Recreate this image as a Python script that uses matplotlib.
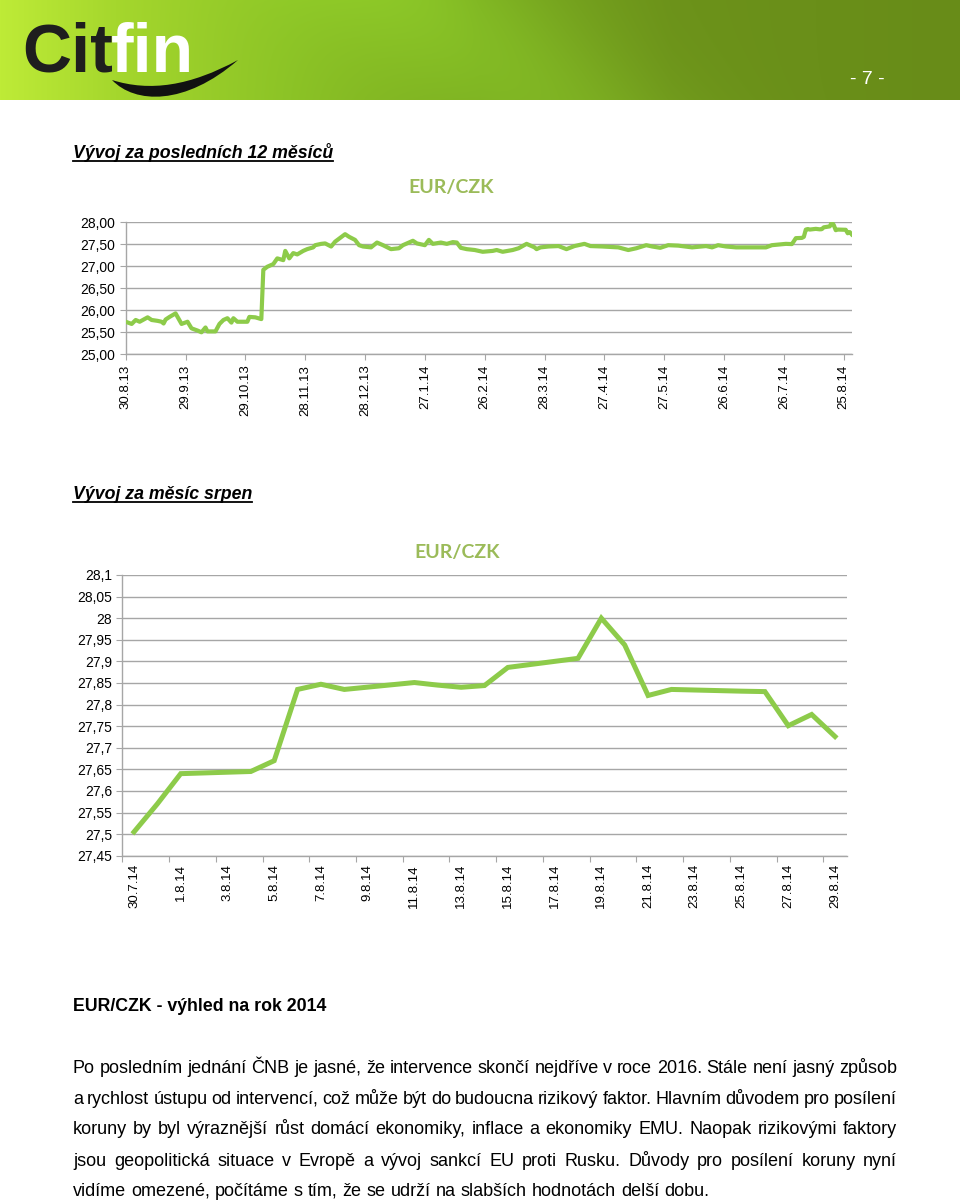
import matplotlib
matplotlib.use("Agg")
import matplotlib.pyplot as plt
from matplotlib.path import Path
from matplotlib.patches import PathPatch
from matplotlib.lines import Line2D
import numpy as np
from datetime import datetime

# ---------------- data ----------------
chart_title = "EUR/CZK"

year_dates = [
    "2013-08-30", "2013-09-02", "2013-09-04", "2013-09-06", "2013-09-10", "2013-09-12",
    "2013-09-15", "2013-09-17", "2013-09-18", "2013-09-19", "2013-09-21", "2013-09-24",
    "2013-09-27", "2013-09-30", "2013-10-02", "2013-10-05", "2013-10-07", "2013-10-09",
    "2013-10-10", "2013-10-14", "2013-10-16", "2013-10-18", "2013-10-20", "2013-10-22",
    "2013-10-23", "2013-10-25", "2013-10-30", "2013-10-31", "2013-11-03", "2013-11-06",
    "2013-11-07", "2013-11-09", "2013-11-12", "2013-11-14", "2013-11-17", "2013-11-18",
    "2013-11-20", "2013-11-22", "2013-11-24", "2013-11-27", "2013-11-29", "2013-12-02",
    "2013-12-03", "2013-12-06", "2013-12-08", "2013-12-11", "2013-12-13", "2013-12-18",
    "2013-12-20", "2013-12-23", "2013-12-25", "2013-12-27", "2013-12-31", "2014-01-03",
    "2014-01-06", "2014-01-10", "2014-01-14", "2014-01-16", "2014-01-21", "2014-01-23",
    "2014-01-27", "2014-01-29", "2014-01-31", "2014-02-04", "2014-02-07", "2014-02-10",
    "2014-02-12", "2014-02-14", "2014-02-17", "2014-02-21", "2014-02-25", "2014-03-02",
    "2014-03-04", "2014-03-07", "2014-03-12", "2014-03-15", "2014-03-19", "2014-03-23",
    "2014-03-24", "2014-03-26", "2014-03-30", "2014-04-04", "2014-04-08", "2014-04-12",
    "2014-04-17", "2014-04-20", "2014-04-26", "2014-05-04", "2014-05-09", "2014-05-13",
    "2014-05-18", "2014-05-21", "2014-05-25", "2014-05-29", "2014-06-03", "2014-06-10",
    "2014-06-17", "2014-06-20", "2014-06-23", "2014-06-27", "2014-07-02", "2014-07-10",
    "2014-07-17", "2014-07-20", "2014-07-27",
]
year_values = [
    25.74, 25.69, 25.78, 25.74, 25.84, 25.78,
    25.76, 25.74, 25.70, 25.79, 25.85, 25.93,
    25.69, 25.74, 25.59, 25.54, 25.50, 25.61,
    25.52, 25.52, 25.69, 25.78, 25.82, 25.72,
    25.82, 25.74, 25.74, 25.85, 25.84, 25.80,
    26.92, 26.99, 27.05, 27.18, 27.14, 27.35,
    27.18, 27.30, 27.27, 27.35, 27.39, 27.43,
    27.48, 27.51, 27.52, 27.45, 27.56, 27.73,
    27.67, 27.60, 27.48, 27.45, 27.43, 27.54,
    27.48, 27.39, 27.41, 27.48, 27.58, 27.52,
    27.48, 27.60, 27.51, 27.54, 27.51, 27.55,
    27.54, 27.42, 27.39, 27.37, 27.33, 27.35,
    27.37, 27.33, 27.37, 27.41, 27.51, 27.43,
    27.39, 27.43, 27.45, 27.46, 27.39, 27.46,
    27.51, 27.46, 27.45, 27.43, 27.37, 27.41,
    27.48, 27.45, 27.42, 27.48, 27.47, 27.43,
    27.46, 27.43, 27.48, 27.45, 27.43, 27.43,
    27.43, 27.48, 27.51,
]

aug_dates = [
    "2014-07-30", "2014-07-31", "2014-08-01", "2014-08-04", "2014-08-05", "2014-08-06",
    "2014-08-07", "2014-08-08", "2014-08-11", "2014-08-12", "2014-08-13", "2014-08-14",
    "2014-08-15", "2014-08-18", "2014-08-19", "2014-08-20", "2014-08-21", "2014-08-22",
    "2014-08-25", "2014-08-26", "2014-08-27", "2014-08-28", "2014-08-29",
]
aug_values = [
    27.505, 27.57, 27.64, 27.645, 27.67, 27.835,
    27.847, 27.835, 27.851, 27.845, 27.840, 27.844,
    27.886, 27.907, 28.00, 27.938, 27.821, 27.835,
    27.831, 27.830, 27.751, 27.777, 27.726,
]

year_tick_labels = ["30.8.13", "29.9.13", "29.10.13", "28.11.13", "28.12.13", "27.1.14",
                    "26.2.14", "28.3.14", "27.4.14", "27.5.14", "26.6.14", "26.7.14", "25.8.14"]
aug_tick_labels = ["30.7.14", "1.8.14", "3.8.14", "5.8.14", "7.8.14", "9.8.14", "11.8.14",
                   "13.8.14", "15.8.14", "17.8.14", "19.8.14", "21.8.14", "23.8.14",
                   "25.8.14", "27.8.14", "29.8.14"]

heading1 = "Vývoj za posledních 12 měsíců"
heading2 = "Vývoj za měsíc srpen"
heading3 = "EUR/CZK - výhled na rok 2014"
body_lines = [
    "Po posledním jednání ČNB je jasné, že intervence skončí nejdříve v roce 2016. Stále není jasný způsob",
    "a rychlost ústupu od intervencí, což může být do budoucna rizikový faktor. Hlavním důvodem pro posílení",
    "koruny by byl výraznější růst domácí ekonomiky, inflace a ekonomiky EMU. Naopak rizikovými faktory",
    "jsou geopolitická situace v Evropě a vývoj sankcí EU proti Rusku. Důvody pro posílení koruny nyní",
    "vidíme omezené, počítáme s tím, že se udrží na slabších hodnotách delší dobu.",
]
page_number = "- 7 -"

# ---------------- styling ----------------
W, H = 960, 1201
plt.rcParams['font.family'] = ['Liberation Sans', 'DejaVu Sans']
LINE_GREEN = "#8DCB4A"
TITLE_GREEN = "#9BBB59"
GRID = "#A6A6A6"

fig = plt.figure(figsize=(W / 100, H / 100), dpi=100)
fig.patch.set_facecolor("white")
renderer = fig.canvas.get_renderer()


def rect(x0, y0, x1, y1):
    return [x0 / W, 1 - y1 / H, (x1 - x0) / W, (y1 - y0) / H]


def fxy(x, y):
    return x / W, 1 - y / H


# ---------------- header banner ----------------
hax = fig.add_axes([0, 1 - 100 / H, 1, 100 / H])
hax.set_xlim(0, W)
hax.set_ylim(100, 0)
hax.axis("off")
xs = np.linspace(0, 1, W)
ys = np.linspace(0, 1, 100)
stops = [0.0, 0.12, 0.3, 0.5, 0.7, 1.0]
rs = [190, 165, 140, 118, 108, 104]
gs = [235, 215, 195, 165, 146, 140]
bs = [55, 45, 38, 30, 26, 24]
X, Y = np.meshgrid(xs, ys)
img = np.zeros((100, W, 3))
for k, ch in enumerate([rs, gs, bs]):
    img[:, :, k] = np.interp(X, stops, ch)
band = 22 * np.exp(-((X * W - (430 + 1.2 * Y * 100)) / 130) ** 2)
img[:, :, 0] += band * 0.6
img[:, :, 1] += band
img[:, :, 2] += band * 0.3
img = np.clip(img / 255.0, 0, 1)
hax.imshow(img, extent=(0, W, 100, 0), aspect="auto", zorder=0)

t_cit = hax.text(22, 72, "Cit", fontsize=49, fontweight="bold", color="#1e1e1e",
                 va="baseline", ha="left", zorder=3)
bb = t_cit.get_window_extent(renderer)
hax.text(22 + bb.width - 2, 72, "fin", fontsize=49, fontweight="bold", color="white",
         va="baseline", ha="left", zorder=3)
sw = Path([(112, 80), (135, 104), (185, 106), (238, 60), (190, 86), (150, 92), (112, 80), (112, 80)],
          [Path.MOVETO, Path.CURVE4, Path.CURVE4, Path.CURVE4, Path.CURVE4, Path.CURVE4, Path.CURVE4,
           Path.CLOSEPOLY])
hax.add_patch(PathPatch(sw, facecolor="#111111", edgecolor="none", zorder=4))
hax.text(867, 79, page_number, fontsize=14, color="white", ha="center", va="center", zorder=3)


# ---------------- headings ----------------
def heading(x, y_base, text, style="italic", underline=True, size=12.8):
    t = fig.text(*fxy(x, y_base), text, fontsize=size, fontweight="bold", fontstyle=style,
                 ha="left", va="baseline", color="black")
    if underline:
        b = t.get_window_extent(renderer)
        yy = 1 - (y_base + 3) / H
        fig.add_artist(Line2D([b.x0 / W, b.x1 / W], [yy, yy], color="black", lw=1.3,
                              transform=fig.transFigure))
    return t


heading(73, 158, heading1)
heading(73, 499, heading2)
heading(73, 1011, heading3, style="normal", underline=False)

# ---------------- top chart ----------------
top_x = [datetime.strptime(d, "%Y-%m-%d") for d in year_dates + aug_dates]
top_y = year_values + aug_values
ax1 = fig.add_axes(rect(125.7, 222.3, 851.7, 354.3))
ax1.plot(top_x, top_y, color=LINE_GREEN, lw=3.0, solid_joinstyle="round", zorder=3)
ax1.set_ylim(25, 28)
ax1.set_yticks(np.arange(25, 28.001, 0.5))
ax1.set_yticklabels([f"{v:.2f}".replace(".", ",") for v in np.arange(25, 28.001, 0.5)])
ax1.set_xlim(datetime(2013, 8, 30), datetime(2014, 8, 29))
ax1.set_xticks([datetime.strptime(s, "%d.%m.%y") for s in year_tick_labels])
ax1.set_xticklabels(year_tick_labels, rotation=90)
fig.text(*fxy(451, 188), chart_title, fontsize=14, fontweight="bold", color=TITLE_GREEN,
         family=["Lato", "Liberation Sans"], ha="center", va="center")

# ---------------- bottom chart ----------------
d0 = datetime.strptime(aug_dates[0], "%Y-%m-%d")
aug_x = [(datetime.strptime(d, "%Y-%m-%d") - d0).days for d in aug_dates]
ax2 = fig.add_axes(rect(122.3, 575, 846.7, 855.7))
ax2.plot(aug_x, aug_values, color=LINE_GREEN, lw=3.6, solid_joinstyle="miter", zorder=3)
yt2 = np.round(np.arange(27.45, 28.1001, 0.05), 2)
ax2.set_ylim(27.45, 28.1)
ax2.set_yticks(yt2)
ax2.set_yticklabels([(f"{v:.2f}".rstrip("0").rstrip(".")).replace(".", ",") for v in yt2])
ax2.set_xlim(-0.5, 30.5)
ax2.set_xticks(np.arange(-0.5, 30, 2))
ax2.set_xticklabels([])
lab_pos = [(datetime.strptime(s, "%d.%m.%y") - d0).days for s in aug_tick_labels]
ax2.set_xticks(lab_pos, minor=True)
ax2.set_xticklabels(aug_tick_labels, minor=True, rotation=90)
ax2.tick_params(axis="x", which="minor", length=0, pad=6)
fig.text(*fxy(457, 552), chart_title, fontsize=14, fontweight="bold", color=TITLE_GREEN,
         family=["Lato", "Liberation Sans"], ha="center", va="center")

for ax in (ax1, ax2):
    ax.set_facecolor("white")
    ax.spines["top"].set_visible(False)
    ax.spines["right"].set_visible(False)
    for s in ("left", "bottom"):
        ax.spines[s].set_color(GRID)
        ax.spines[s].set_linewidth(1.0)
    ax.yaxis.grid(True, color=GRID, lw=1.0, zorder=0)
    ax.set_axisbelow(True)
    ax.tick_params(axis="both", which="major", direction="out", length=4, color=GRID,
                   labelsize=10, labelcolor="black")
    ax.tick_params(axis="x", which="both", labelsize=9.5)

# ---------------- body text (justified) ----------------
BODY_SIZE = 13.0
x_left, x_right = 73, 897
baselines = [1073, 1104, 1134.5, 1165.5, 1196]
for i, (line, yb) in enumerate(zip(body_lines, baselines)):
    words = line.split(" ")
    texts = [fig.text(0, 1 - yb / H, w, fontsize=BODY_SIZE, ha="left", va="baseline", color="black")
             for w in words]
    widths = [t.get_window_extent(renderer).width for t in texts]
    if i < len(body_lines) - 1:
        gap = (x_right - x_left - sum(widths)) / (len(words) - 1)
    else:
        gap = BODY_SIZE / 72 * 100 * 0.278
    x = x_left
    for t, w in zip(texts, widths):
        t.set_x(x / W)
        x += w + gap

fig.savefig("out.png", dpi=100, facecolor="white")
